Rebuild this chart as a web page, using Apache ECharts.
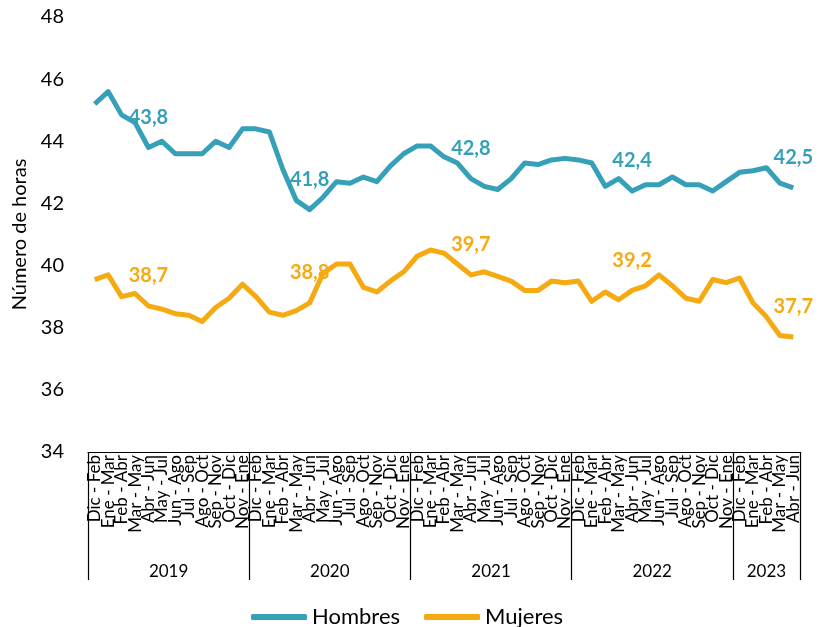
<!DOCTYPE html>
<html>
<head>
<meta charset="utf-8">
<script src="https://cdn.jsdelivr.net/npm/echarts@6/dist/echarts.min.js"></script>
<style>
	html, body { margin: 0; padding: 0; background: #fff; }
	#chart { width: 826px; height: 627px; }
</style>
</head>
<body>
<div id="chart"></div>
<script>
	// trimestres móviles
	var periodos = ['Dic - Feb', 'Ene - Mar', 'Feb - Abr', 'Mar - May', 'Abr - Jun', 'May - Jul',
		'Jun - Ago', 'Jul - Sep', 'Ago - Oct', 'Sep - Nov', 'Oct - Dic', 'Nov - Ene'];
	var anios = ['2019', '2020', '2021', '2022', '2023'];
	var periodosPorAnio = [12, 12, 12, 12, 5];

	var hombres = [45.2, 45.6, 44.85, 44.6, 43.8, 44.0, 43.6, 43.6, 43.6, 44.0, 43.8, 44.4,
		44.4, 44.3, 43.1, 42.1, 41.8, 42.2, 42.7, 42.65, 42.85, 42.7, 43.2, 43.6,
		43.85, 43.85, 43.5, 43.3, 42.8, 42.55, 42.45, 42.8, 43.3, 43.25, 43.4, 43.45,
		43.4, 43.3, 42.55, 42.8, 42.4, 42.6, 42.6, 42.85, 42.6, 42.6, 42.4, 42.7,
		43.0, 43.05, 43.15, 42.65, 42.5];
	var mujeres = [39.55, 39.7, 39.0, 39.1, 38.7, 38.6, 38.45, 38.4, 38.2, 38.65, 38.95, 39.4,
		39.0, 38.5, 38.4, 38.55, 38.8, 39.75, 40.05, 40.05, 39.3, 39.15, 39.5, 39.8,
		40.3, 40.5, 40.4, 40.05, 39.7, 39.8, 39.65, 39.5, 39.2, 39.2, 39.5, 39.45,
		39.5, 38.85, 39.15, 38.9, 39.2, 39.35, 39.7, 39.35, 38.95, 38.85, 39.55, 39.45,
		39.6, 38.8, 38.35, 37.75, 37.7];

	// puntos etiquetados (Abr - Jun de cada año)
	var etiquetados = [4, 16, 28, 40, 52];

	var colorH = '#36A0B8';
	var colorM = '#F6AA12';
	var fuente = 'Lato';

	// categorías y límites de los años
	var categorias = [];
	var limites = [0];
	var centros = [];
	var pos = 0;
	periodosPorAnio.forEach(function (n) {
		for (var i = 0; i < n; i++) categorias.push(periodos[i]);
		centros.push(pos + n / 2);
		pos += n;
		limites.push(pos);
	});

	function serie(valores, color) {
		return valores.map(function (v, i) {
			if (etiquetados.indexOf(i) < 0) return v;
			return {
				value: v,
				label: {
					show: true,
					position: 'top',
					distance: 20,
					color: color,
					fontFamily: fuente,
					fontWeight: 'bold',
					fontSize: 20,
					formatter: function (p) {
						return p.value.toFixed(1).replace('.', ',');
					}
				}
			};
		});
	}

	var myChart = echarts.init(document.getElementById('chart'));
	var option = {
		animation: false,
		textStyle: { fontFamily: fuente },
		grid: { left: 88, right: 26, top: 17, bottom: 175 },
		legend: {
			left: 246,
			top: 601,
			icon: 'roundRect',
			itemWidth: 56,
			itemHeight: 6,
			itemGap: 24,
			textStyle: { fontSize: 22, color: '#000', fontFamily: fuente },
			data: ['Hombres', 'Mujeres']
		},
		xAxis: [{
			type: 'category',
			data: categorias,
			boundaryGap: true,
			axisLine: { lineStyle: { color: '#000', width: 1.2 } },
			axisTick: { show: false },
			axisLabel: {
				interval: 0,
				rotate: 90,
				margin: 3,
				fontSize: 17,
				color: '#000',
				lineHeight: 14
			}
		}, {
			// segundo nivel: años
			type: 'value',
			min: 0,
			max: categorias.length,
			position: 'bottom',
			axisLine: { show: false },
			splitLine: { show: false },
			axisTick: {
				show: true,
				customValues: limites,
				length: 128,
				lineStyle: { color: '#000', width: 1.2 }
			},
			axisLabel: {
				customValues: centros,
				margin: 111,
				fontSize: 17,
				color: '#000',
				formatter: function (v) {
					return anios[centros.indexOf(v)];
				}
			}
		}],
		yAxis: {
			type: 'value',
			min: 34,
			max: 48,
			interval: 2,
			name: 'Número de horas',
			nameLocation: 'middle',
			nameGap: 56,
			nameTextStyle: { fontSize: 20, color: '#000' },
			axisLine: { show: false },
			axisTick: { show: false },
			splitLine: { show: false },
			axisLabel: { fontSize: 20, color: '#000', margin: 24 }
		},
		series: [{
			name: 'Hombres',
			type: 'line',
			data: serie(hombres, colorH),
			symbol: 'circle',
			symbolSize: 0.1,
			color: colorH,
			lineStyle: { width: 5, color: colorH, join: 'round' }
		}, {
			name: 'Mujeres',
			type: 'line',
			data: serie(mujeres, colorM),
			symbol: 'circle',
			symbolSize: 0.1,
			color: colorM,
			lineStyle: { width: 5, color: colorM, join: 'round' }
		}]
	};
	myChart.setOption(option);
</script>
</body>
</html>
